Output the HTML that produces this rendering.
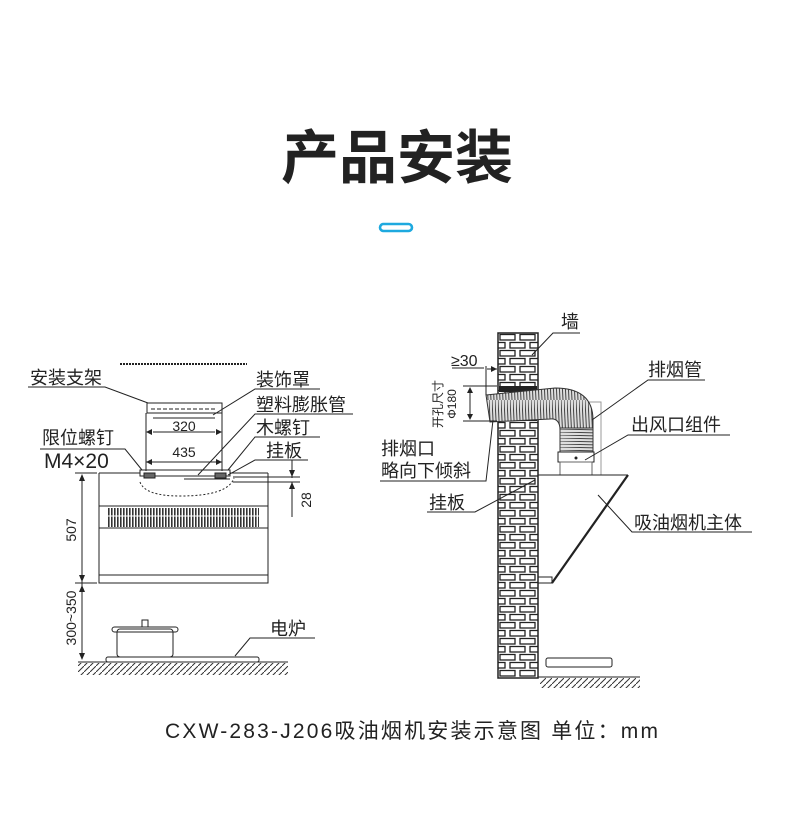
<!DOCTYPE html>
<html><head><meta charset="utf-8"><style>
html,body{margin:0;padding:0;background:#fff;}
body{width:790px;height:836px;overflow:hidden;position:relative;}
svg{position:absolute;left:0;top:0;}
text{font-family:"Liberation Sans","Noto Sans CJK SC",sans-serif;fill:#222;}
</style></head><body>
<svg width="790" height="836" viewBox="0 0 790 836" xmlns="http://www.w3.org/2000/svg">
<defs>
<pattern id="brick" x="498" y="333" width="40" height="16" patternUnits="userSpaceOnUse">
<rect width="40" height="16" fill="#fff"/>
<rect x="2" y="1.5" width="15" height="5.5" fill="none" stroke="#222" stroke-width="1.3"/>
<rect x="22" y="1.5" width="15" height="5.5" fill="none" stroke="#222" stroke-width="1.3"/>
<rect x="-8" y="9.5" width="15" height="5.5" fill="none" stroke="#222" stroke-width="1.3"/>
<rect x="12" y="9.5" width="15" height="5.5" fill="none" stroke="#222" stroke-width="1.3"/>
<rect x="32" y="9.5" width="15" height="5.5" fill="none" stroke="#222" stroke-width="1.3"/>
</pattern>
<pattern id="hatch" width="6" height="6" patternUnits="userSpaceOnUse">
<line x1="0" y1="6" x2="6" y2="0" stroke="#333" stroke-width="1"/>
</pattern>
<pattern id="grill" width="3" height="22" patternUnits="userSpaceOnUse">
<rect width="3" height="22" fill="#fff"/><rect width="1.6" height="22" fill="#333"/>
</pattern>
<pattern id="corr" width="3" height="40" patternUnits="userSpaceOnUse">
<rect width="3" height="40" fill="#ddd"/><line x1="0" y1="0" x2="2" y2="40" stroke="#444" stroke-width="1"/>
</pattern>
<pattern id="corrv" width="40" height="3" patternUnits="userSpaceOnUse">
<rect width="40" height="3" fill="#ddd"/><line x1="0" y1="0" x2="40" y2="1" stroke="#444" stroke-width="1"/>
</pattern>
</defs>

<text x="397" y="178" font-size="58" font-weight="bold" text-anchor="middle" fill="#222">产品安装</text>
<rect x="380" y="224" width="32" height="7" rx="3.5" fill="none" stroke="#1ea9df" stroke-width="2.6"/>

<g stroke="#222" fill="none" stroke-width="1">
<line x1="120" y1="364" x2="247" y2="364" stroke-dasharray="2 1" stroke-width="2"/>
<rect x="147" y="403" width="75" height="10"/>
<line x1="151" y1="409" x2="217" y2="409" stroke-dasharray="4 2"/>
<line x1="146" y1="413" x2="146" y2="471"/>
<line x1="222" y1="413" x2="222" y2="471"/>
<line x1="153" y1="418" x2="215" y2="418"/>
<line x1="146" y1="462" x2="222" y2="462"/>
<rect x="140" y="470" width="90" height="6"/>
<line x1="184" y1="479" x2="230" y2="479"/>
<rect x="144" y="473" width="11" height="5" fill="#666"/>
<rect x="215" y="473" width="11" height="5" fill="#666"/>
<path d="M140 482 Q145 496 180 496 Q228 496 234 478" stroke-dasharray="2 2"/>
<line x1="99" y1="473" x2="140" y2="473"/>
<line x1="230" y1="473" x2="268" y2="473"/>
<polyline points="99,473 99,583 268,583 268,473"/>
<line x1="99" y1="506" x2="268" y2="506"/>
<line x1="99" y1="528" x2="268" y2="528"/>
<line x1="99" y1="575" x2="268" y2="575"/>
<rect x="107" y="508" width="152" height="19" fill="url(#grill)" stroke="none"/>
<line x1="107" y1="516" x2="259" y2="516" stroke="#fff" stroke-width="1"/>
<line x1="82" y1="476" x2="82" y2="658"/>
<line x1="75" y1="473" x2="97" y2="473"/>
<line x1="75" y1="583" x2="97" y2="583"/>
<line x1="233" y1="477" x2="300" y2="477"/>
<line x1="233" y1="482" x2="300" y2="482"/>
<line x1="292" y1="460" x2="292" y2="478"/>
<line x1="292" y1="482" x2="292" y2="517"/>
<line x1="78" y1="662" x2="288" y2="662"/>
<rect x="78" y="663" width="210" height="12" fill="url(#hatch)" stroke="none"/>
<rect x="106" y="657" width="153" height="5" rx="2"/>
<rect x="117" y="629" width="56" height="28" rx="3"/>
<rect x="112" y="627" width="66" height="5" rx="2.5"/>
<rect x="142" y="620" width="6" height="7"/>
<polyline points="28,387 105,387 148,403"/>
<polyline points="320,389 255,389 213,415"/>
<polyline points="353,414 255,414 198,475"/>
<polyline points="320,437 255,437 228,470"/>
<polyline points="308,460 255,460 228,475"/>
<polyline points="40,449 125,449 142,470"/>
<polyline points="315,638 250,638 235,656"/>
</g>
<g fill="#222">
<polygon points="146,432 152,429 152,435"/><polygon points="222,432 216,429 216,435"/>
<polygon points="146,462 152,459 152,465"/><polygon points="222,462 216,459 216,465"/>
<polygon points="82,474 79,481 85,481"/><polygon points="82,582 79,575 85,575"/>
<polygon points="82,585 79,592 85,592"/><polygon points="82,660 79,653 85,653"/>
<polygon points="292,477 289,470 295,470"/><polygon points="292,482 289,489 295,489"/>
</g>
<line x1="153" y1="432" x2="215" y2="432" stroke="#222"/>
<text x="184" y="431" font-size="14" text-anchor="middle">320</text>
<text x="184" y="457" font-size="14" text-anchor="middle">435</text>
<text x="30" y="384" font-size="18">安装支架</text>
<text x="256" y="386" font-size="18">装饰罩</text>
<text x="256" y="411" font-size="18">塑料膨胀管</text>
<text x="256" y="434" font-size="18">木螺钉</text>
<text x="266" y="457" font-size="18">挂板</text>
<text x="42" y="444" font-size="18">限位螺钉</text>
<text x="44" y="468" font-size="21">M4×20</text>
<text x="270" y="635" font-size="18">电炉</text>
<text transform="translate(76,530) rotate(-90)" font-size="14" text-anchor="middle">507</text>
<text transform="translate(76,618) rotate(-90)" font-size="14" text-anchor="middle">300~350</text>
<text transform="translate(311,500) rotate(-90)" font-size="14" text-anchor="middle">28</text>

<rect x="498" y="333" width="40" height="345" fill="url(#brick)" stroke="#222" stroke-width="1.5"/>
<rect x="499" y="386" width="38" height="6" fill="#222"/>
<rect x="499" y="416" width="38" height="5" fill="#222"/>
<rect x="561" y="402" width="40" height="73" fill="none" stroke="#999"/>
<path d="M486 395 L555 388 Q593 388 593 420 L593 452 L560 452 L560 430 Q560 418 550 419 L490 422 Z" fill="url(#corr)" stroke="#333"/>
<rect x="560" y="428" width="33" height="24" fill="url(#corrv)" stroke="#333"/>
<rect x="558" y="452" width="36" height="10" fill="#fff" stroke="#222"/>
<circle cx="576" cy="458" r="1.5" fill="#222"/>
<rect x="560" y="462" width="32" height="13" fill="#fff" stroke="#666"/>
<g stroke="#222" fill="none" stroke-width="1">
<line x1="538" y1="475" x2="628" y2="475"/>
<line x1="628" y1="475" x2="552" y2="583" stroke-width="2.2"/>
<polyline points="538,577 552,577 552,583 538,583"/>
<line x1="538" y1="677" x2="640" y2="677"/>
<rect x="540" y="678" width="100" height="10" fill="url(#hatch)" stroke="none"/>
<rect x="546" y="658" width="66" height="9" rx="2"/>
<line x1="452" y1="368" x2="484" y2="368"/>
<line x1="486" y1="366" x2="486" y2="395"/>
<line x1="487" y1="369" x2="497" y2="369"/>
<line x1="463" y1="386" x2="497" y2="386"/>
<line x1="463" y1="421" x2="497" y2="421"/>
<line x1="470" y1="388" x2="470" y2="419"/>
<polyline points="580,333 553,333 532,355"/>
<polyline points="705,380 648,380 592,420"/>
<polyline points="730,435 628,435 585,460"/>
<polyline points="380,481 486,481 493,420"/>
<polyline points="427,512 475,512 535,480"/>
<polyline points="752,532 632,532 598,495"/>
</g>
<g fill="#222">
<polygon points="470,387 467,393 473,393"/><polygon points="470,420 467,414 473,414"/>
<polygon points="497,369 491,366 491,372"/>
</g>
<text x="561" y="328" font-size="18">墙</text>
<text x="451" y="366" font-size="16">≥30</text>
<text x="648" y="376" font-size="18">排烟管</text>
<text x="631" y="431" font-size="18">出风口组件</text>
<text x="381" y="455" font-size="18">排烟口</text>
<text x="381" y="477" font-size="18">略向下倾斜</text>
<text x="429" y="509" font-size="18">挂板</text>
<text x="634" y="529" font-size="18">吸油烟机主体</text>
<text transform="translate(442,404) rotate(-90)" font-size="12" text-anchor="middle">开孔尺寸</text>
<text transform="translate(456,404) rotate(-90)" font-size="12" text-anchor="middle">Φ180</text>

<text x="165" y="738" font-size="21" textLength="493" lengthAdjust="spacing">CXW-283-J206吸油烟机安装示意图  单位：mm</text>
</svg>
</body></html>
